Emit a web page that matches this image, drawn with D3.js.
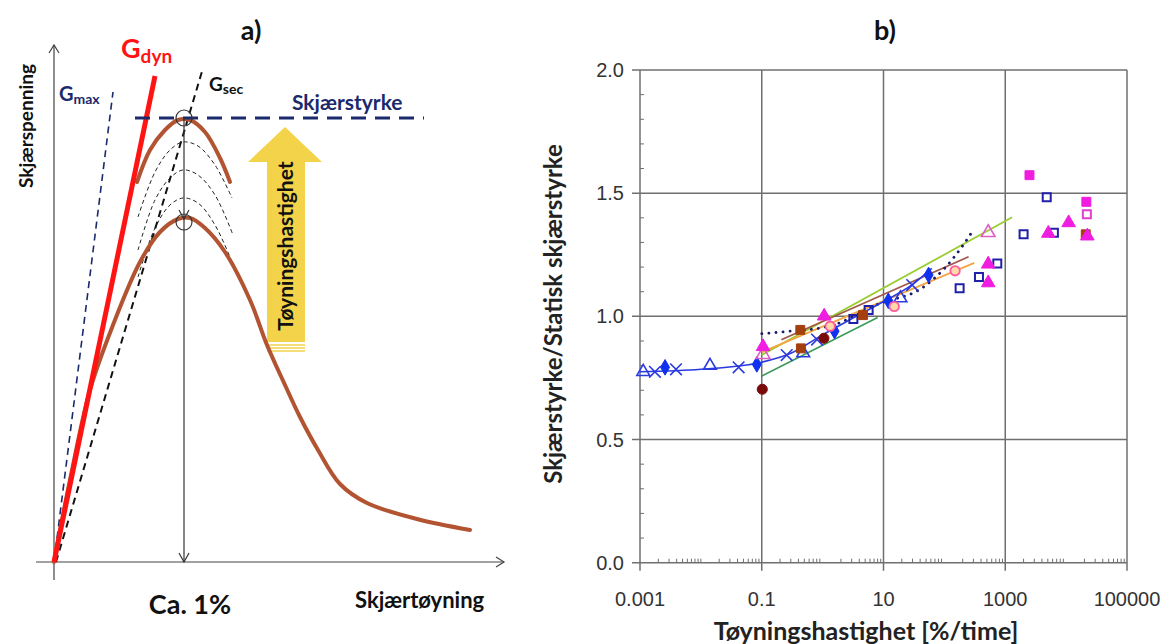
<!DOCTYPE html>
<html>
<head>
<meta charset="utf-8">
<script src="https://cdn.jsdelivr.net/npm/d3@7"></script>
<style>
  body { margin: 0; background: #fff; }
  svg { display: block; }
</style>
</head>
<body>
<div id="container"></div>
<script>
// ---------- panel a) schematic, in schematic units ----------
const brownTop = [[83,380],[96,412],[111,432],[124,442],[136,442],[151,430],[166,404],[176,380]];
const brownLow = [[0,0],[16,82],[36,172],[59,237],[86,300],[106,330],[124,343],[136,344],[151,334],
  [171,310],[196,262],[213,217],[231,177],[246,145],[264,112],[286,78],[313,59],[363,43],[416,32]];
const dashedCurves = [
  [[84,345],[101,390],[116,412],[129,420],[144,416],[161,397],[178,364]],
  [[84,312],[101,362],[116,384],[129,392],[144,387],[161,367],[179,327]],
  [[84,285],[101,334],[116,357],[129,364],[144,359],[161,337],[178,300]]
];
const gMax = [[0,0],[59,470]];
const gDyn = [[0,0],[101,486]];
const gSec = [[2,0],[149,494]];
const strength = [[81,444],[370,444]];
const peakX = 130;
const peaks = [444, 340];

// ---------- panel b) data ----------
const xTicks = [0.001, 0.1, 10, 1000, 100000];
const xTickLabels = ['0.001', '0.1', '10', '1000', '100000'];
const yTicks = [0, 0.5, 1.0, 1.5, 2.0];

const blueTri = [[0.00113,0.775],[0.0141,0.80],[0.48,0.851],[19,1.074]];
const blueX = [[0.00176,0.775],[0.0039,0.785],[0.0417,0.793],[0.257,0.843],[0.81,0.906],[29.6,1.127]];
const blueDiamond = [[0.00258,0.793],[0.083,0.805],[1.57,0.94],[12,1.063],[55,1.168]];
const blueCurve = [[0.001,0.775],[0.01,0.785],[0.1,0.814],[0.3,0.85],[1,0.925],[3,0.99],[10,1.06],[30,1.13],[62,1.195]];
const navySquare = [[3.2,0.989],[5.7,1.026],[178,1.114],[370,1.16],[740,1.215],[2000,1.333],[4800,1.483],[6300,1.339]];
const pinkSquareOpen = [[21900,1.414]];
const magentaTri = [[0.105,0.877],[1.06,1.001],[525,1.212],[525,1.136],[5100,1.337],[11000,1.38],[22300,1.326]];
const magentaSquare = [[2500,1.573],[21500,1.465]];
const brownSquare = [[0.43,0.945],[0.44,0.87],[4.6,1.005],[21000,1.333]];
const maroonCircle = [[0.102,0.704],[1.05,0.911]];
const pinkCircle = [[1.33,0.96],[15,1.04],[150,1.185]];
const pinkTriOpen = [[0.105,0.845],[525,1.34]];
const orangeLine = [[0.1,0.855],[310,1.217]];
const limeLine = [[0.1,0.843],[1300,1.402]];
const siennaLine = [[0.21,0.905],[250,1.242]];
const greenLine = [[0.1,0.758],[8,0.995]];
const navyDotted = [[0.1,0.93],[0.3,0.94],[1.3,0.96],[8.3,1.05],[46,1.12],[105,1.2],[195,1.283],[285,1.343]];

const svg = d3.select('#container').append('svg')
  .attr('width', 1168).attr('height', 644);

const boldFont = 'Lato, "Open Sans", sans-serif';

// ================= panel a =================
const xa = d3.scaleLinear().domain([0, 450]).range([54, 504]);
const ya = d3.scaleLinear().domain([0, 500]).range([562, 62]);
const lineA = d3.line().x(d => xa(d[0])).y(d => ya(d[1]));
const curveA = d3.line().x(d => xa(d[0])).y(d => ya(d[1])).curve(d3.curveCatmullRom);

const a = svg.append('g');

// axes with open arrowheads
a.append('line').attr('x1', xa(0)).attr('x2', xa(0)).attr('y1', ya(-18)).attr('y2', ya(517))
  .attr('stroke', '#444').attr('stroke-width', 1.2);
a.append('path').attr('d', `M${xa(0)-5},${ya(517)+8} L${xa(0)},${ya(517)} L${xa(0)+5},${ya(517)+8}`)
  .attr('fill', 'none').attr('stroke', '#444').attr('stroke-width', 1.2);
a.append('line').attr('x1', xa(-18)).attr('x2', xa(450)).attr('y1', ya(0)).attr('y2', ya(0))
  .attr('stroke', '#444').attr('stroke-width', 1.2);
a.append('path').attr('d', `M${xa(450)-8},${ya(0)-5} L${xa(450)},${ya(0)} L${xa(450)-8},${ya(0)+5}`)
  .attr('fill', 'none').attr('stroke', '#444').attr('stroke-width', 1.2);

// yellow arrow
const arrowPts = [[213,220],[213,400],[194,400],[231,435],[268,400],[251,400],[251,220]];
a.append('path').attr('d', lineA(arrowPts) + 'Z').attr('fill', '#f2d34a');
[217, 214, 211].forEach(v => {
  a.append('line').attr('x1', xa(213)).attr('x2', xa(251)).attr('y1', ya(v)).attr('y2', ya(v))
    .attr('stroke', '#f2d34a').attr('stroke-width', 1.3);
});
a.append('text').attr('transform', `translate(${xa(239)},${ya(316)}) rotate(-90)`)
  .attr('text-anchor', 'middle').attr('font-family', boldFont).attr('font-weight', 700)
  .attr('font-size', 21).attr('fill', '#111').text('Tøyningshastighet');

// dashed thin curves
dashedCurves.forEach(c => {
  a.append('path').attr('d', curveA(c)).attr('fill', 'none')
    .attr('stroke', '#222').attr('stroke-width', 1).attr('stroke-dasharray', '4 3');
});

// modulus lines
a.append('path').attr('d', lineA(gMax)).attr('stroke', '#1a2a6c').attr('stroke-width', 1.6)
  .attr('stroke-dasharray', '7 5').attr('fill', 'none');
a.append('path').attr('d', lineA(gSec)).attr('stroke', '#111').attr('stroke-width', 2)
  .attr('stroke-dasharray', '7 5').attr('fill', 'none');

// brown curves
[brownTop, brownLow].forEach(c => {
  a.append('path').attr('d', curveA(c)).attr('fill', 'none')
    .attr('stroke', '#b25432').attr('stroke-width', 4).attr('stroke-linecap', 'round');
});

a.append('path').attr('d', lineA(gDyn)).attr('stroke', '#ff1414').attr('stroke-width', 5)
  .attr('fill', 'none');

// strength line
a.append('path').attr('d', lineA(strength)).attr('stroke', '#1a2a6c').attr('stroke-width', 3)
  .attr('stroke-dasharray', '15 9').attr('fill', 'none');

// vertical line with arrowheads
a.append('line').attr('x1', xa(peakX)).attr('x2', xa(peakX)).attr('y1', ya(445)).attr('y2', ya(0))
  .attr('stroke', '#333').attr('stroke-width', 1.2);
[peaks[1] + 3, 0].forEach(v => {
  a.append('path').attr('d', `M${xa(peakX)-5},${ya(v)-9} L${xa(peakX)},${ya(v)} L${xa(peakX)+5},${ya(v)-9}`)
    .attr('fill', 'none').attr('stroke', '#333').attr('stroke-width', 1.2);
});
peaks.forEach(v => {
  a.append('circle').attr('cx', xa(peakX)).attr('cy', ya(v)).attr('r', 8)
    .attr('fill', 'none').attr('stroke', '#333').attr('stroke-width', 1.2);
});

// labels panel a
const labA = (x, y, txt, size, color, anchor) => a.append('text').attr('x', x).attr('y', y)
  .attr('font-family', boldFont).attr('font-weight', 700).attr('font-size', size)
  .attr('fill', color).attr('text-anchor', anchor || 'start').text(txt);

labA(251, 40, 'a)', 27, '#111', 'middle');
const gm = labA(59, 101, 'G', 20, '#1a2a6c');
gm.append('tspan').attr('font-size', 14).attr('dy', 3).text('max');
const gd = labA(121, 58, 'G', 27, '#ff1414');
gd.append('tspan').attr('font-size', 19).attr('dy', 5).text('dyn');
const gs = labA(209, 91, 'G', 19, '#111');
gs.append('tspan').attr('font-size', 14).attr('dy', 3).text('sec');
labA(292, 110, 'Skjærstyrke', 21, '#1a2a6c');
labA(190, 614, 'Ca. 1%', 27, '#111', 'middle');
labA(355, 608, 'Skjærtøyning', 22, '#111');
a.append('text').attr('transform', 'translate(33,126) rotate(-90)')
  .attr('text-anchor', 'middle').attr('font-family', boldFont).attr('font-weight', 700)
  .attr('font-size', 19).attr('fill', '#111').text('Skjærspenning');

// ================= panel b =================
const xb = d3.scaleLog().domain([0.001, 100000]).range([640, 1127]);
const yb = d3.scaleLinear().domain([0, 2]).range([562.7, 70]);
const b = svg.append('g');
const grid = '#6f6f6f';

// grid
xTicks.forEach(t => {
  b.append('line').attr('x1', xb(t)).attr('x2', xb(t)).attr('y1', yb(2)).attr('y2', yb(0) + 8)
    .attr('stroke', grid).attr('stroke-width', 1.5);
});
yTicks.forEach(t => {
  b.append('line').attr('x1', xb(0.001) - 8).attr('x2', xb(100000)).attr('y1', yb(t)).attr('y2', yb(t))
    .attr('stroke', grid).attr('stroke-width', 1.5);
});
// minor ticks
d3.range(1, 20).filter(i => i % 5 !== 0).forEach(i => {
  b.append('line').attr('x1', xb(0.001)).attr('x2', xb(0.001) + 4)
    .attr('y1', yb(i / 10)).attr('y2', yb(i / 10)).attr('stroke', grid).attr('stroke-width', 1);
});
xb.ticks().filter(t => ![1, 100, 10000].includes(t) && !xTicks.includes(t)).forEach(t => {
  b.append('line').attr('x1', xb(t)).attr('x2', xb(t))
    .attr('y1', yb(0)).attr('y2', yb(0) - 4).attr('stroke', grid).attr('stroke-width', 1);
});

// tick labels
const tickFont = '"Liberation Sans", Arial, sans-serif';
xTicks.forEach((t, i) => {
  b.append('text').attr('x', xb(t)).attr('y', 606).attr('text-anchor', 'middle')
    .attr('font-family', tickFont).attr('font-size', 20).attr('fill', '#333').text(xTickLabels[i]);
});
yTicks.forEach(t => {
  b.append('text').attr('x', xb(0.001) - 16).attr('y', yb(t) + 7).attr('text-anchor', 'end')
    .attr('font-family', tickFont).attr('font-size', 20).attr('fill', '#333').text(t.toFixed(1));
});

// titles
b.append('text').attr('x', 885).attr('y', 40).attr('text-anchor', 'middle')
  .attr('font-family', boldFont).attr('font-weight', 700).attr('font-size', 27).attr('fill', '#111').text('b)');
b.append('text').attr('x', 866).attr('y', 640).attr('text-anchor', 'middle')
  .attr('font-family', boldFont).attr('font-weight', 700).attr('font-size', 25).attr('fill', '#222')
  .text('Tøyningshastighet [%/time]');
b.append('text').attr('transform', 'translate(562,314) rotate(-90)').attr('text-anchor', 'middle')
  .attr('font-family', boldFont).attr('font-weight', 700).attr('font-size', 24).attr('fill', '#222')
  .text('Skjærstyrke/Statisk skjærstyrke');

// lines
const lineB = d3.line().x(d => xb(d[0])).y(d => yb(d[1]));
const curveB = d3.line().x(d => xb(d[0])).y(d => yb(d[1])).curve(d3.curveMonotoneX);
const drawLine = (data, color, width, dash, gen) => b.append('path').attr('d', (gen || lineB)(data))
  .attr('fill', 'none').attr('stroke', color).attr('stroke-width', width)
  .attr('stroke-dasharray', dash || null).attr('stroke-linecap', dash ? 'round' : 'butt');

drawLine(greenLine, '#3a9a5a', 1.6);
drawLine(limeLine, '#9acd32', 1.8);
drawLine(orangeLine, '#f5a442', 1.8);
drawLine(siennaLine, '#a0584a', 1.8);
drawLine(navyDotted, '#1a1a66', 2.8, '0.1 7', curveB);
drawLine(blueCurve, '#2a3ae0', 1.6, null, curveB);

// markers
const sym = (type, size) => d3.symbol().type(type).size(size)();
const drawMarks = (data, type, size, fill, stroke, sw) => {
  b.selectAll(null).data(data).enter().append('path')
    .attr('transform', d => `translate(${xb(d[0])},${yb(d[1])})`)
    .attr('d', sym(type, size))
    .attr('fill', fill).attr('stroke', stroke).attr('stroke-width', sw || 1.5);
};
const timesType = d3.symbolTimes || d3.symbolX || d3.symbolCross;

drawMarks(blueTri, d3.symbolTriangle, 70, 'none', '#2a3ae0', 1.6);
drawMarks(blueX, timesType, 90, 'none', '#2a3ae0', 1.6);
drawMarks(blueDiamond, d3.symbolDiamond, 70, '#1030f0', '#1030f0', 1);
drawMarks(navySquare, d3.symbolSquare, 64, 'none', '#2020a8', 2);
drawMarks(pinkSquareOpen, d3.symbolSquare, 64, 'none', '#e040d0', 2);
drawMarks(maroonCircle, d3.symbolCircle, 80, '#7a0a0a', '#7a0a0a', 1);
drawMarks(brownSquare, d3.symbolSquare, 80, '#a3400e', '#a3400e', 1);
drawMarks(pinkCircle, d3.symbolCircle, 70, '#ffd9a8', '#ff5aa0', 1.8);
drawMarks(pinkTriOpen, d3.symbolTriangle, 80, 'none', '#e05cc8', 1.6);
drawMarks(magentaTri, d3.symbolTriangle, 80, '#f01ce0', '#f01ce0', 1);
drawMarks(magentaSquare, d3.symbolSquare, 80, '#f01ce0', '#f01ce0', 1);
</script>
</body>
</html>
